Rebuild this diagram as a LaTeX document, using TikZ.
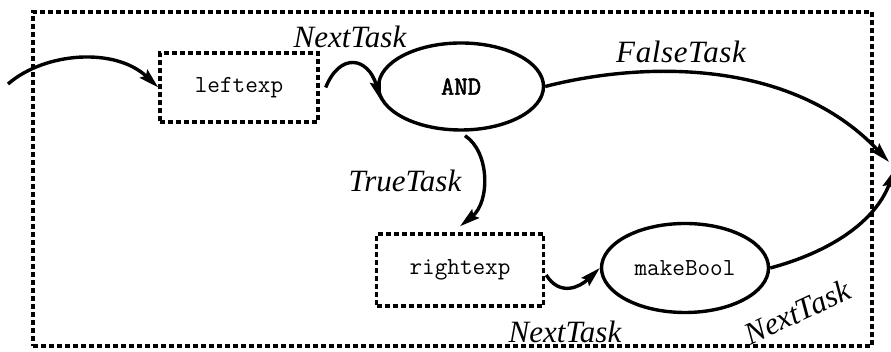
\documentclass[tikz,border=0pt]{standalone}
\usepackage{fontspec}
\setmainfont{Liberation Serif}
\newfontfamily\heavycode{Latin Modern Mono}[FakeBold=2]
\usetikzlibrary{arrows.meta,shapes.geometric}

\tikzset{
  dotline/.style={line width=3.4pt, dash pattern=on 5pt off 3pt},
  codefont/.style={font=\fontsize{24.5}{27}\selectfont\ttfamily},
  codebox/.style={draw, dotline, rectangle, inner sep=0pt, codefont},
  task/.style={draw, line width=3.4pt, ellipse, inner sep=0pt, codefont},
  flow/.style={line width=3.4pt,
    -{Stealth[length=20pt,width=11pt,inset=3pt]}},
  lbl/.style={font=\fontsize{31}{34}\selectfont\itshape, inner sep=0pt},
}

\begin{document}
\begin{tikzpicture}[x=1pt,y=1pt]
  \useasboundingbox (0,0) rectangle (891,352);

  % enclosing region
  \node[dotline, draw, rectangle, minimum width=839pt, minimum height=334pt,
        inner sep=0pt] (frame) at (452.5,173) {};

  % tasks
  \node[codebox, minimum width=158pt, minimum height=69pt] (left) at (239,264.5) {leftexp};
  \node[task, minimum width=165pt, minimum height=87pt,
        font=\fontsize{26}{28}\selectfont\heavycode] (and) at (461,265.5) {AND};
  \node[codebox, minimum width=167pt, minimum height=72pt] (right) at (460,82) {rightexp};
  \node[task, minimum width=167pt, minimum height=89pt] (mb) at (685,84) {makeBool};

  % entry and exits
  \coordinate (entry) at (8,268);
  \coordinate (exitF) at (889,190);
  \coordinate (exitN) at (895,183);

  % connectors
  \draw[flow] (entry) .. controls (45,300) and (115,305) .. (left.west);
  \draw[flow] (left.east) ++(6,0) .. controls (340,300) and (368,295) .. (and.190);
  \draw[flow] (and.east) .. controls (640,290) and (790,295) .. (exitF);
  \draw[flow] (and.south) ++(4,-4) .. controls (490,200) and (490,150) .. ([yshift=6pt]right.north);
  \draw[flow] (right.east) ++(1,-5) .. controls (560,55) and (580,65) .. (mb.west);
  \draw[flow] (mb.east) .. controls (830,100) and (875,130) .. (exitN);

  % labels
  \node[lbl] (l1) at (350,315) {NextTask};
  \node[lbl] (l2) at (681,300) {\addfontfeatures{LetterSpace=2}FalseTask};
  \node[lbl] (l3) at (405,171) {TrueTask};
  \node[lbl] (l4) at (565,20) {NextTask};
  \node[lbl, rotate=25] (l5) at (797,40) {NextTask};
\end{tikzpicture}
\end{document}
